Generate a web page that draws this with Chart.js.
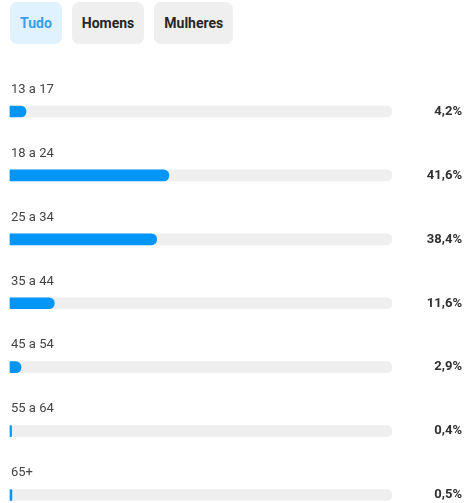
<!DOCTYPE html>
<html>
<head>
<meta charset="utf-8">
<script src="https://cdn.jsdelivr.net/npm/chart.js@4"></script>
<style>
    html, body { margin: 0; padding: 0; background: #fff; }
    body { width: 466px; height: 503px; position: relative; overflow: hidden; font-family: Roboto, sans-serif; }
    #tabs { position: absolute; top: 2px; left: 10px; display: flex; gap: 10px; z-index: 2; }
    .tab {
        height: 42px; line-height: 42px; padding: 0 10px; border-radius: 7px;
        background: #efefef; color: #262626; font-size: 14px; font-weight: 700;
    }
    .tab.active { background: #e0f1ff; color: #3a9fe6; }
    #chartBox { position: absolute; top: 0; left: 0; width: 466px; height: 503px; }
</style>
</head>
<body>
<div id="tabs"></div>
<div id="chartBox"><canvas id="ageChart"></canvas></div>
<script>
// Chart data
const filterTabs = ['Tudo', 'Homens', 'Mulheres'];
const ageGroups = ['13 a 17', '18 a 24', '25 a 34', '35 a 44', '45 a 54', '55 a 64', '65+'];
const sharePct = [4.2, 41.6, 38.4, 11.6, 2.9, 0.4, 0.5];
const trackMax = 100;

// Build the filter buttons
const tabsEl = document.getElementById('tabs');
filterTabs.forEach((name, i) => {
    const el = document.createElement('div');
    el.className = 'tab' + (i === 0 ? ' active' : '');
    el.textContent = name;
    tabsEl.appendChild(el);
});

function formatPct(v) {
    return v.toFixed(1).replace('.', ',') + '%';
}

// Draws the age label above each bar and the percentage on the right
const rowText = {
    id: 'rowText',
    afterDatasetsDraw(chart) {
        const ctx = chart.ctx;
        const yScale = chart.scales.y;
        const left = chart.chartArea.left;
        ctx.save();
        ageGroups.forEach((label, i) => {
            const y = yScale.getPixelForValue(i);
            ctx.textBaseline = 'middle';
            ctx.font = '13px Roboto';
            ctx.fillStyle = '#444444';
            ctx.textAlign = 'left';
            ctx.fillText(label, left + 1, y - 22);

            ctx.font = 'bold 13px Roboto';
            ctx.fillStyle = '#303030';
            ctx.textAlign = 'right';
            ctx.fillText(formatPct(sharePct[i]), chart.width - 4, y);
        });
        ctx.restore();
    }
};

new Chart(document.getElementById('ageChart'), {
    type: 'bar',
    data: {
        labels: ageGroups,
        datasets: [
            {
                label: 'Share',
                data: sharePct,
                backgroundColor: '#0095f6',
                barThickness: 11,
                borderRadius: 6,
                borderSkipped: 'start',
                grouped: false,
                clip: false
            },
            {
                label: 'Track',
                data: ageGroups.map(() => trackMax),
                backgroundColor: '#efefef',
                barThickness: 11,
                borderRadius: 6,
                borderSkipped: 'start',
                grouped: false,
                clip: false
            }
        ]
    },
    options: {
        indexAxis: 'y',
        responsive: true,
        maintainAspectRatio: false,
        animation: false,
        layout: {
            padding: { left: 10, right: 74, top: 111.5, bottom: 8 }
        },
        plugins: {
            legend: { display: false },
            tooltip: { enabled: false }
        },
        scales: {
            x: { min: 0, max: trackMax, display: false },
            y: { display: false, offset: false, grid: { display: false } }
        }
    },
    plugins: [rowText]
});
</script>
</body>
</html>
